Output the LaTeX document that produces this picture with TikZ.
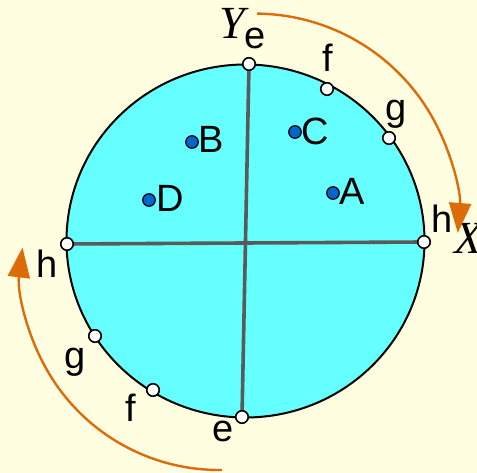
\documentclass[tikz,border=0pt]{standalone}
\usepackage{fontspec}
\setmainfont{Liberation Sans}
\newfontfamily\axisfont{Liberation Serif}
\usetikzlibrary{arrows.meta}
\definecolor{paper}{RGB}{255,254,224}
\definecolor{disc}{RGB}{102,255,255}
\definecolor{dotblue}{RGB}{0,102,204}
\definecolor{turn}{RGB}{222,107,10}
\definecolor{axisgray}{RGB}{90,90,90}

\begin{document}
\begin{tikzpicture}[x=1pt,y=1pt,
    rim/.style={circle,draw=black,fill=white,line width=1.6pt,inner sep=0pt,minimum size=12.5pt},
    spot/.style={circle,draw=black,fill=dotblue,line width=1.2pt,inner sep=0pt,minimum size=12.5pt},
    lbl/.style={anchor=base,inner sep=0pt,font=\fontsize{38}{40}\selectfont},
    axlbl/.style={anchor=base,inner sep=0pt,font=\axisfont\itshape\fontsize{46}{48}\selectfont},
    rot/.style={draw=turn,line width=2.4pt,-{Triangle[width=22pt,length=30pt]}}]
  \useasboundingbox[fill=paper] (0,0) rectangle (477,473);
  \draw[fill=disc,line width=2pt] (245.5,232) ellipse [x radius=179,y radius=176.5];
  % points on the rim
  \coordinate (eT) at (249,409);
  \coordinate (fT) at (327,384);
  \coordinate (gT) at (389,335);
  \coordinate (hR) at (424,231);
  \coordinate (hL) at (67,229);
  \coordinate (gL) at (95,137);
  \coordinate (fL) at (153,83);
  \coordinate (eB) at (242,56);
  \draw[axisgray,line width=3.6pt] (eT) -- (eB);
  \draw[axisgray,line width=3.6pt] (hL) -- (hR);
  \foreach \p in {eT,fT,gT,hR,hL,gL,fL,eB}
    \node[rim] (\p-pt) at (\p) {};
  \node[lbl] (eT-lb) at (255.5,424) {e};
  \node[lbl] (fT-lb) at (328,401) {f};
  \node[lbl] (gT-lb) at (396.5,352) {g};
  \node[lbl] (hR-lb) at (442.5,240) {h};
  \node[lbl] (hL-lb) at (47,195) {h};
  \node[lbl] (gL-lb) at (75.5,104) {g};
  \node[lbl] (fL-lb) at (130.5,51) {f};
  \node[lbl] (eB-lb) at (223,31) {e};
  \node[axlbl] (Ylb) at (232,434) {Y};
  \node[axlbl] (Xlb) at (469,219) {X};
  % points inside
  \node[spot] (B) at (192,331) {};
  \node[spot] (C) at (295,341) {};
  \node[spot] (D) at (149,273) {};
  \node[spot] (A) at (333,280) {};
  \node[lbl] at (211.5,320) {B};
  \node[lbl] at (315.5,328) {C};
  \node[lbl] at (170.5,261) {D};
  \node[lbl] at (352.5,268) {A};
  % turning arrows
  \coordinate (ctrA) at (255,256);
  \coordinate (ctrB) at (219,201);
  \draw[rot] ([shift={(89.4:203.4)}]ctrA) arc [start angle=89.4,end angle=-4.5,radius=203.4];
  \draw[rot] ([shift={(-89.2:198)}]ctrB) arc [start angle=-89.2,end angle=-187.1,radius=198];
\end{tikzpicture}
\end{document}
